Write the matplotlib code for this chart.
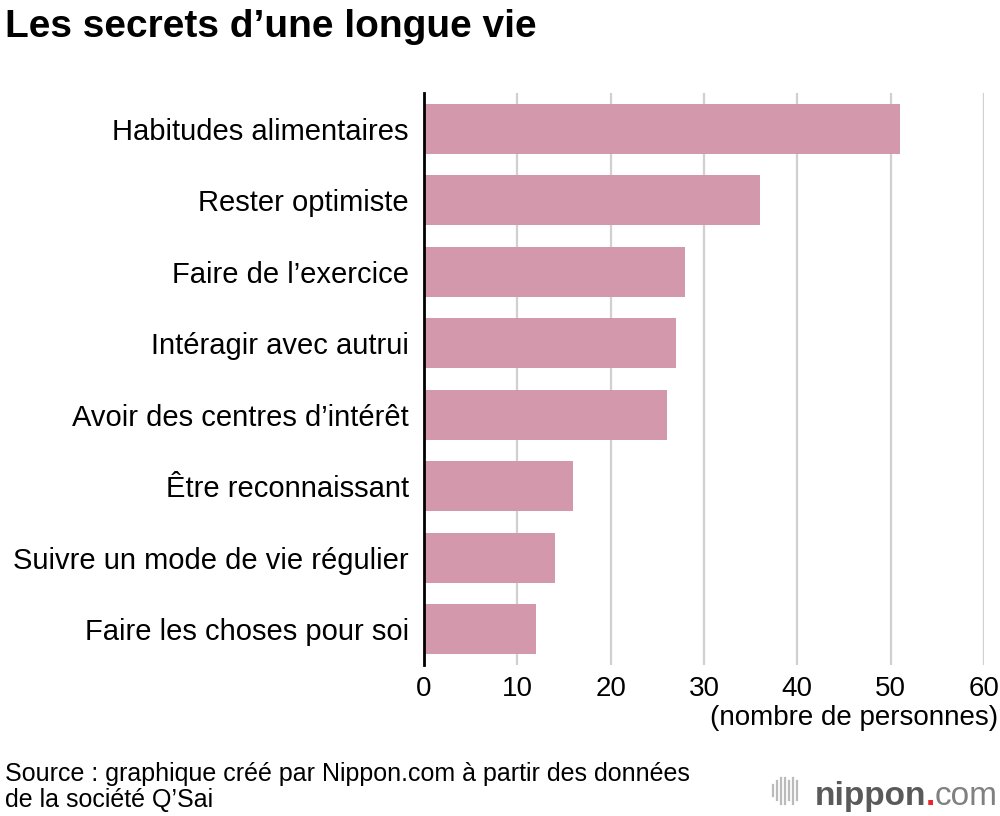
import matplotlib
matplotlib.use("Agg")
import matplotlib.pyplot as plt
from matplotlib.lines import Line2D

plt.rcParams['font.family'] = ['Liberation Sans', 'DejaVu Sans']

# data
categories = ["Habitudes alimentaires", "Rester optimiste", "Faire de l\u2019exercice",
              "Int\u00e9ragir avec autrui", "Avoir des centres d\u2019int\u00e9r\u00eat",
              "\u00catre reconnaissant", "Suivre un mode de vie r\u00e9gulier",
              "Faire les choses pour soi"]
values = [51, 36, 28, 27, 26, 16, 14, 12]
xticks = [0, 10, 20, 30, 40, 50, 60]

fig = plt.figure(figsize=(10, 8.16), dpi=100)
ax = fig.add_axes([0.424, 0.185, 0.56, 0.701])

pos = list(range(len(categories)))
ax.barh(pos, values, height=0.7, color='#d398ab', zorder=3)
ax.set_ylim(len(categories) - 0.5, -0.5)
ax.set_xlim(0, 60)

ax.set_xticks(xticks)
ax.set_xticklabels([str(t) for t in xticks], fontsize=20)
ax.set_yticks(pos)
ax.set_yticklabels(categories, fontsize=21)
ax.tick_params(axis='both', length=0)
ax.tick_params(axis='x', pad=8)
ax.tick_params(axis='y', pad=11)

ax.grid(axis='x', color='#d0d0d0', linewidth=1.6, zorder=0)
for s in ['top', 'right', 'bottom']:
    ax.spines[s].set_visible(False)
ax.spines['left'].set_linewidth(2)
ax.spines['left'].set_zorder(4)

fig.text(0.998, 0.12, "(nombre de personnes)", fontsize=20, ha='right', va='center')

fig.text(0.005, 0.967, "Les secrets d\u2019une longue vie", fontsize=28, fontweight='bold',
         ha='left', va='center')

fig.text(0.005, 0.036, "Source : graphique cr\u00e9\u00e9 par Nippon.com \u00e0 partir des donn\u00e9es\nde la soci\u00e9t\u00e9 Q\u2019Sai",
         fontsize=18, ha='left', va='center', linespacing=1.1)

# logo, built from the right edge
base = 0.014
t3 = fig.text(0.998, base, "com", fontsize=24, color='#808080', ha='right', va='baseline')
fig.canvas.draw()
inv = fig.transFigure.inverted()
x3 = t3.get_window_extent().transformed(inv).x0
t2 = fig.text(x3, base, ".", fontsize=24, fontweight='bold', color='#e8262b',
              ha='right', va='baseline')
fig.canvas.draw()
x2 = t2.get_window_extent().transformed(inv).x0
fig.text(x2, base, "nippon", fontsize=24, fontweight='bold', color='#5a5a5a',
         ha='right', va='baseline')

bar_h = [0.014, 0.024, 0.032, 0.032, 0.024, 0.032, 0.024]
bar_x = [0.773, 0.777, 0.781, 0.785, 0.789, 0.793, 0.797]
for bx, bh in zip(bar_x, bar_h):
    fig.add_artist(Line2D([bx, bx], [0.031 - bh / 2, 0.031 + bh / 2], color='#bbbbbb',
                          linewidth=1.6, transform=fig.transFigure))

fig.savefig("out.png", dpi=100)
